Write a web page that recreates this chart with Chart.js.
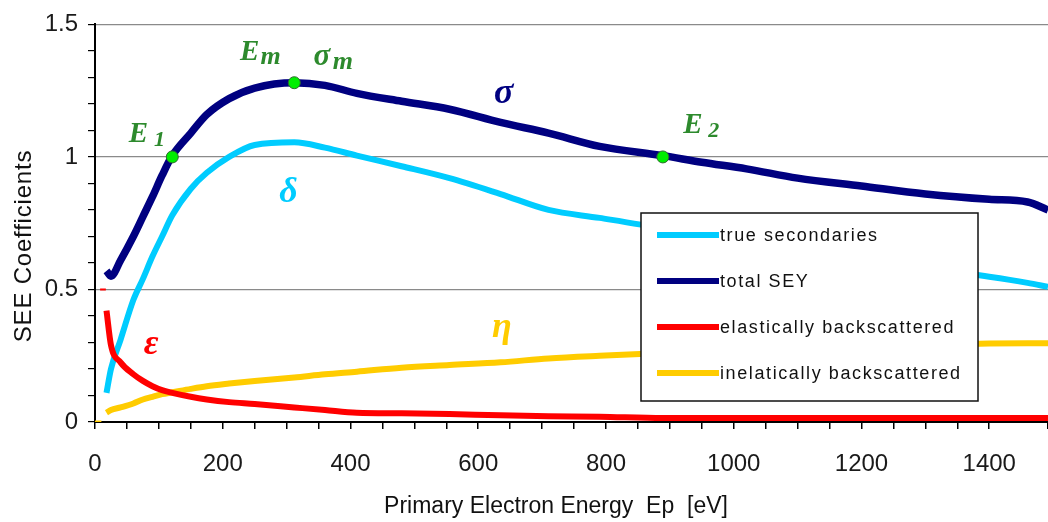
<!DOCTYPE html>
<html>
<head>
<meta charset="utf-8">
<script src="https://cdn.jsdelivr.net/npm/chart.js@4.4.0/dist/chart.umd.min.js"></script>
<style>
  html, body { margin: 0; padding: 0; background: #fff; }
  #wrap { width: 1048px; height: 522px; }
</style>
</head>
<body>
<div id="wrap"><canvas id="seeChart" width="1048" height="522"></canvas></div>
<script>
// primary energy grid (eV) and the four yield curves
const energy    = [18, 25, 40, 60, 75, 90, 105, 121, 150, 175, 210, 250, 312, 360, 410, 480, 555, 635, 710, 790, 889, 950, 1020, 1100, 1200, 1300, 1400, 1460, 1492];
const trueSec   = [0.11, 0.20, 0.31, 0.46, 0.54, 0.625, 0.70, 0.78, 0.88, 0.94, 1.00, 1.045, 1.055, 1.035, 1.005, 0.965, 0.92, 0.86, 0.80, 0.77, 0.73, 0.70, 0.67, 0.64, 0.61, 0.58, 0.548, 0.525, 0.51];
const totalSey  = [0.57, 0.55, 0.61, 0.70, 0.775, 0.85, 0.93, 1.005, 1.09, 1.16, 1.22, 1.26, 1.28, 1.27, 1.24, 1.21, 1.18, 1.13, 1.09, 1.04, 1.005, 0.98, 0.955, 0.92, 0.89, 0.86, 0.84, 0.83, 0.80];
const elastic   = [0.42, 0.29, 0.225, 0.18, 0.155, 0.135, 0.12, 0.11, 0.095, 0.085, 0.075, 0.068, 0.055, 0.045, 0.035, 0.033, 0.03, 0.025, 0.022, 0.02, 0.015, 0.015, 0.015, 0.015, 0.015, 0.015, 0.015, 0.015, 0.015];
const inelastic = [0.035, 0.045, 0.055, 0.07, 0.085, 0.095, 0.105, 0.112, 0.125, 0.135, 0.145, 0.155, 0.168, 0.18, 0.19, 0.205, 0.215, 0.225, 0.24, 0.25, 0.26, 0.265, 0.272, 0.278, 0.285, 0.29, 0.296, 0.297, 0.297];

const seriesNames  = ['true secondaries', 'total SEY', 'elastically backscattered', 'inelatically backscattered'];
const seriesColors = ['#00ccff', '#000080', '#ff0000', '#ffcc00'];

// short stray bits next to the y axis
const elasticStubE   = [8, 17];
const elasticStub    = [0.5, 0.5];
const inelasticStubE = [0, 10];
const inelasticStub  = [0, 0];

// E1, Em, E2 markers on the total yield
const markE = [121, 312, 889];
const markV = [1.0, 1.28, 1.0];

// curve symbols (anchored on their baseline)
const symText  = ['σ', 'δ', 'ε', 'η'];
const symE     = [640, 303, 88, 637];
const symV     = [1.205, 0.831, 0.258, 0.322];

// marker labels
const tagText = ['E', 'E', 'σ', 'E'];
const tagSub  = ['1', 'm', 'm', '2'];
const tagE    = [68, 242, 355, 936];
const tagV    = [1.055, 1.366, 1.347, 1.092];

const xTitle = 'Primary Electron Energy  Ep  [eV]';
const yTitle = 'SEE Coefficients';

const pts = (xs, ys) => xs.map((e, i) => ({x: e, y: ys[i]}));
const isHalf = v => Math.abs(v * 2 - Math.round(v * 2)) < 1e-6;

const overlay = {
  id: 'overlay',
  afterDraw(chart) {
    const {ctx, scales: {x, y}} = chart;
    ctx.save();

    // axis titles
    ctx.fillStyle = '#111';
    ctx.textAlign = 'center';
    ctx.textBaseline = 'alphabetic';
    ctx.font = '23px "Liberation Sans", Arial, sans-serif';
    ctx.fillText(xTitle, 556, 513);
    ctx.save();
    ctx.translate(31, 246);
    ctx.rotate(-Math.PI / 2);
    ctx.font = '24px "Liberation Sans", Arial, sans-serif';
    ctx.letterSpacing = '0.8px';
    ctx.fillText(yTitle, 0, 0);
    ctx.restore();

    // curve symbols
    ctx.font = 'italic bold 36px "Liberation Serif", "DejaVu Serif", serif';
    const symColors = [seriesColors[1], seriesColors[0], seriesColors[2], seriesColors[3]];
    symText.forEach((t, i) => {
      ctx.fillStyle = symColors[i];
      ctx.fillText(t, x.getPixelForValue(symE[i]), y.getPixelForValue(symV[i]));
    });

    // marker labels
    ctx.fillStyle = '#2d8a2d';
    tagText.forEach((t, i) => {
      const px = x.getPixelForValue(tagE[i]);
      const py = y.getPixelForValue(tagV[i]);
      ctx.font = 'italic bold ' + (t === 'σ' ? 31 : 29) + 'px "Liberation Serif", serif';
      ctx.fillText(t, px, py);
      ctx.font = 'italic bold ' + (tagSub[i] === 'm' ? 26 : 22) + 'px "Liberation Serif", serif';
      ctx.fillText(tagSub[i], px + 21, py + 4);
    });

    // legend box
    const bx = 641, by = 213, bw = 337, bh = 188;
    ctx.fillStyle = '#fff';
    ctx.fillRect(bx, by, bw, bh);
    ctx.strokeStyle = '#111';
    ctx.lineWidth = 1.5;
    ctx.strokeRect(bx, by, bw, bh);
    ctx.textAlign = 'left';
    ctx.textBaseline = 'middle';
    ctx.font = '18px "Liberation Sans", Arial, sans-serif';
    ctx.letterSpacing = '1.6px';
    seriesNames.forEach((name, i) => {
      const ly = 235 + i * 46;
      ctx.strokeStyle = seriesColors[i];
      ctx.lineWidth = 6;
      ctx.beginPath();
      ctx.moveTo(657, ly);
      ctx.lineTo(719, ly);
      ctx.stroke();
      ctx.fillStyle = '#111';
      ctx.fillText(name, 720, ly + 1);
    });
    ctx.restore();
  }
};

const lineSet = (label, data, color, width, order) => ({
  label, data, borderColor: color, backgroundColor: color,
  borderWidth: width, pointRadius: 0, cubicInterpolationMode: 'monotone', order,
  borderJoinStyle: 'round', fill: false
});

new Chart(document.getElementById('seeChart'), {
  type: 'line',
  data: {
    datasets: [
      {
        label: 'markers', data: pts(markE, markV), showLine: false,
        pointRadius: 6, pointBackgroundColor: '#00ee00',
        pointBorderColor: '#2f6a2f', pointBorderWidth: 1, order: 0
      },
      lineSet(seriesNames[1], pts(energy, totalSey), seriesColors[1], 7.5, 1),
      lineSet(seriesNames[2], pts(energy, elastic), seriesColors[2], 6, 2),
      lineSet(seriesNames[3], pts(energy, inelastic), seriesColors[3], 6, 3),
      lineSet(seriesNames[0], pts(energy, trueSec), seriesColors[0], 6, 4),
      lineSet('elastic stub', pts(elasticStubE, elasticStub), seriesColors[2], 2, 5),
      lineSet('inelastic stub', pts(inelasticStubE, inelasticStub), seriesColors[3], 3, 5)
    ]
  },
  options: {
    responsive: false,
    animation: false,
    devicePixelRatio: 1,
    layout: { autoPadding: false, padding: { top: 21, right: 0, left: 0, bottom: 0 } },
    plugins: { legend: { display: false }, tooltip: { enabled: false } },
    scales: {
      x: {
        type: 'linear', min: 0, max: 1492,
        afterFit: s => { s.height = 100; s.paddingRight = 0; s.paddingLeft = 0; },
        border: { display: true, color: '#000', width: 2 },
        grid: { drawOnChartArea: false, tickLength: 7, tickColor: '#000', lineWidth: 1.5 },
        ticks: {
          stepSize: 50, autoSkip: false, maxRotation: 0, padding: 21,
          color: '#1a1a1a', font: { family: '"Liberation Sans", Arial, sans-serif', size: 24 },
          callback: v => (Math.round(v) % 200 === 0 ? String(Math.round(v)) : '')
        }
      },
      y: {
        type: 'linear', min: 0, max: 1.5,
        afterFit: s => { s.width = 95; },
        border: { display: true, color: '#000', width: 2 },
        grid: {
          tickLength: 7, tickColor: '#000', lineWidth: 1.2,
          color: c => (c.tick && c.tick.value > 0 && isHalf(c.tick.value) ? '#8a8a8a' : 'rgba(0,0,0,0)')
        },
        ticks: {
          stepSize: 0.1, autoSkip: false, padding: 10,
          color: '#1a1a1a', font: { family: '"Liberation Sans", Arial, sans-serif', size: 24 },
          callback: v => (isHalf(v) ? String(Math.round(v * 10) / 10) : '')
        }
      }
    }
  },
  plugins: [overlay]
});
</script>
</body>
</html>
